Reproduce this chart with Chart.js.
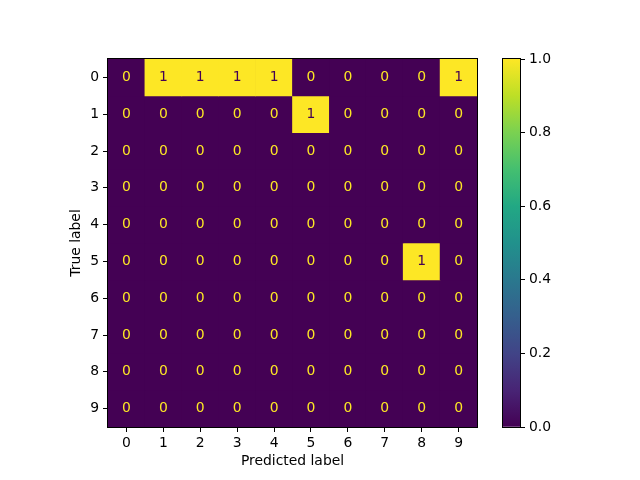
<!DOCTYPE html>
<html>
<head>
<meta charset="utf-8">
<script src="https://cdn.jsdelivr.net/npm/chart.js@4"></script>
<style>
  body { margin: 0; background: #fff; }
  #wrap { position: relative; width: 640px; height: 480px; }
  #wrap canvas { position: absolute; left: 0; top: 0; }
</style>
</head>
<body>
<div id="wrap">
  <canvas id="cm" width="640" height="480"></canvas>
  <canvas id="cbar" width="640" height="480"></canvas>
</div>
<script>
// Confusion matrix data
const classLabels = ['0', '1', '2', '3', '4', '5', '6', '7', '8', '9'];
const row0 = [0, 1, 1, 1, 1, 0, 0, 0, 0, 1];
const row1 = [0, 0, 0, 0, 0, 1, 0, 0, 0, 0];
const row2 = [0, 0, 0, 0, 0, 0, 0, 0, 0, 0];
const row3 = [0, 0, 0, 0, 0, 0, 0, 0, 0, 0];
const row4 = [0, 0, 0, 0, 0, 0, 0, 0, 0, 0];
const row5 = [0, 0, 0, 0, 0, 0, 0, 0, 1, 0];
const row6 = [0, 0, 0, 0, 0, 0, 0, 0, 0, 0];
const row7 = [0, 0, 0, 0, 0, 0, 0, 0, 0, 0];
const row8 = [0, 0, 0, 0, 0, 0, 0, 0, 0, 0];
const row9 = [0, 0, 0, 0, 0, 0, 0, 0, 0, 0];
const matrix = [row0, row1, row2, row3, row4, row5, row6, row7, row8, row9];
const colorbarTicks = [0, 0.2, 0.4, 0.6, 0.8, 1.0];

const FONT = { family: 'DejaVu Sans', size: 13.9 };
const LOW = '#440154';
const HIGH = '#fde725';
const viridis = ['#440154', '#482475', '#414487', '#355f8d', '#2a788e', '#21918c',
                 '#22a884', '#44bf70', '#7ad151', '#bddf26', '#fde725'];

Chart.defaults.font.family = FONT.family;
Chart.defaults.font.size = FONT.size;
Chart.defaults.color = '#000';

// black frame around the plot area
const frame = {
    id: 'frame',
    afterDraw(chart) {
        const a = chart.chartArea, ctx = chart.ctx;
        ctx.save();
        ctx.strokeStyle = '#000';
        ctx.lineWidth = 1;
        ctx.strokeRect(Math.round(a.left) - 0.5, Math.round(a.top) - 0.5,
                       Math.round(a.right - a.left) + 1, Math.round(a.bottom - a.top) + 1);
        ctx.restore();
    }
};

// dark underlay so cell edges leave no seams
const underlay = {
    id: 'underlay',
    beforeDatasetsDraw(chart) {
        const a = chart.chartArea, ctx = chart.ctx;
        ctx.save();
        ctx.fillStyle = LOW;
        ctx.fillRect(a.left, a.top, a.right - a.left, a.bottom - a.top);
        ctx.restore();
    }
};

// numbers in the cells
const cellText = {
    id: 'cellText',
    afterDatasetsDraw(chart) {
        const ctx = chart.ctx, xs = chart.scales.x, ys = chart.scales.y;
        ctx.save();
        ctx.font = FONT.size + 'px ' + FONT.family;
        ctx.textAlign = 'center';
        ctx.textBaseline = 'middle';
        matrix.forEach((row, i) => {
            row.forEach((v, j) => {
                ctx.fillStyle = v > 0.5 ? LOW : HIGH;
                ctx.fillText(String(v), xs.getPixelForValue(j), ys.getPixelForValue(i));
            });
        });
        ctx.restore();
    }
};

new Chart(document.getElementById('cm'), {
    type: 'bar',
    data: {
        labels: classLabels,
        datasets: matrix.map((row, i) => ({
            data: row.map(() => [i - 0.5, i + 0.5]),
            backgroundColor: row.map(v => v > 0.5 ? HIGH : LOW),
            borderWidth: 0,
            grouped: false,
            barPercentage: 1,
            categoryPercentage: 1
        }))
    },
    options: {
        responsive: false,
        animation: false,
        layout: { padding: { left: 64, right: 163, top: 59, bottom: 6 } },
        plugins: { legend: { display: false }, tooltip: { enabled: false } },
        scales: {
            x: {
                grid: { drawOnChartArea: false, drawTicks: true, tickLength: 5, color: '#000', offset: false },
                border: { display: false },
                ticks: { padding: 3, maxRotation: 0 },
                title: { display: true, text: 'Predicted label' },
                afterFit: s => { s.height = 47; }
            },
            y: {
                type: 'linear',
                reverse: true,
                min: -0.5,
                max: 9.5,
                grid: { drawOnChartArea: false, drawTicks: true, tickLength: 5, color: '#000' },
                border: { display: false },
                ticks: { padding: 4, callback: v => String(v) },
                afterBuildTicks: s => { s.ticks = classLabels.map((_, i) => ({ value: i })); },
                title: { display: true, text: 'True label' },
                afterFit: s => { s.width = 44; }
            }
        }
    },
    plugins: [underlay, frame, cellText]
});

// colorbar
new Chart(document.getElementById('cbar'), {
    type: 'bar',
    data: {
        labels: [''],
        datasets: [{
            data: [[0, 1]],
            borderWidth: 0,
            barPercentage: 1,
            categoryPercentage: 1,
            backgroundColor: ctx => {
                const a = ctx.chart.chartArea;
                if (!a) return LOW;
                const g = ctx.chart.ctx.createLinearGradient(0, a.bottom, 0, a.top);
                viridis.forEach((c, k) => g.addColorStop(k / (viridis.length - 1), c));
                return g;
            }
        }]
    },
    options: {
        responsive: false,
        animation: false,
        layout: { padding: { left: 503, right: 0, top: 59, bottom: 53 } },
        plugins: { legend: { display: false }, tooltip: { enabled: false } },
        scales: {
            x: { display: false },
            y: {
                position: 'right',
                min: 0,
                max: 1,
                grid: { drawOnChartArea: false, drawTicks: true, tickLength: 5, color: '#000' },
                border: { display: false },
                ticks: { padding: 4, callback: v => Number(v).toFixed(1) },
                afterBuildTicks: s => { s.ticks = colorbarTicks.map(v => ({ value: v })); },
                afterFit: s => { s.width = 120; }
            }
        }
    },
    plugins: [frame]
});
</script>
</body>
</html>
